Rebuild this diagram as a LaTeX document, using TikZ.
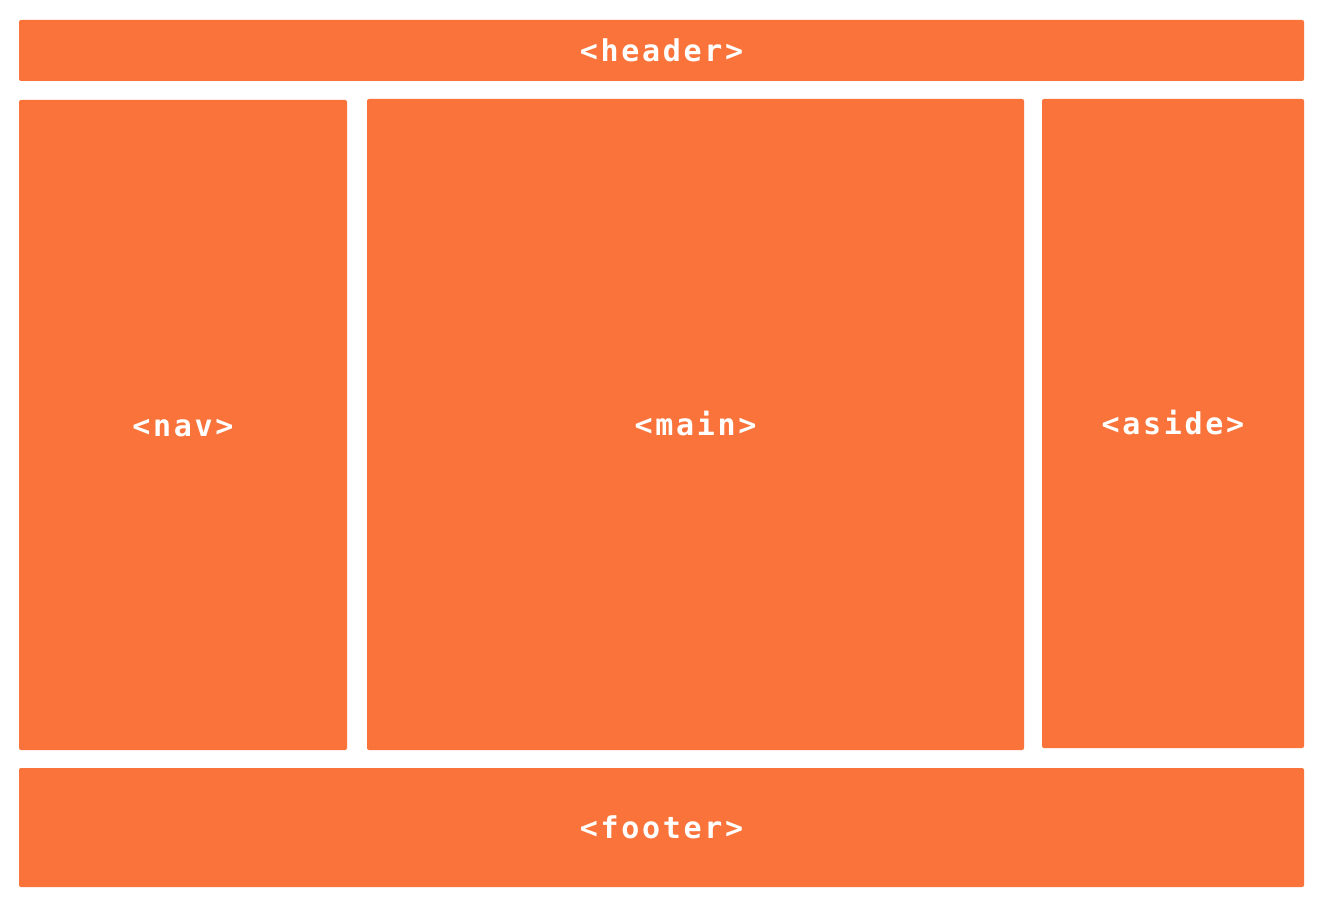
\documentclass[tikz,border=0pt]{standalone}
\usepackage{fontspec}
\newfontfamily\labelfont[LetterSpace=9]{DejaVu Sans Mono Bold}
\definecolor{boxorange}{RGB}{249,115,58}
\tikzset{
  layoutbox/.style={fill=boxorange, draw=none, rounded corners=2pt, inner sep=0pt, outer sep=0pt,
    anchor=north west, text=white, font=\labelfont\fontsize{30}{36}\selectfont,
    text height=22.5pt, text depth=0pt}
}
\begin{document}
\begin{tikzpicture}[x=1pt,y=-1pt]
\useasboundingbox[fill=white] (0,0) rectangle (1322,912);
\node[layoutbox, minimum width=1285pt, minimum height=61pt] (header) at (19,20) {<header>};
\node[layoutbox, minimum width=328pt, minimum height=650pt] (nav) at (19,100) {<nav>};
\node[layoutbox, minimum width=657pt, minimum height=651pt] (main) at (367,99) {<main>};
\node[layoutbox, minimum width=262pt, minimum height=649pt] (aside) at (1042,99) {<aside>};
\node[layoutbox, minimum width=1285pt, minimum height=119pt] (footer) at (19,768) {<footer>};
\end{tikzpicture}
\end{document}
